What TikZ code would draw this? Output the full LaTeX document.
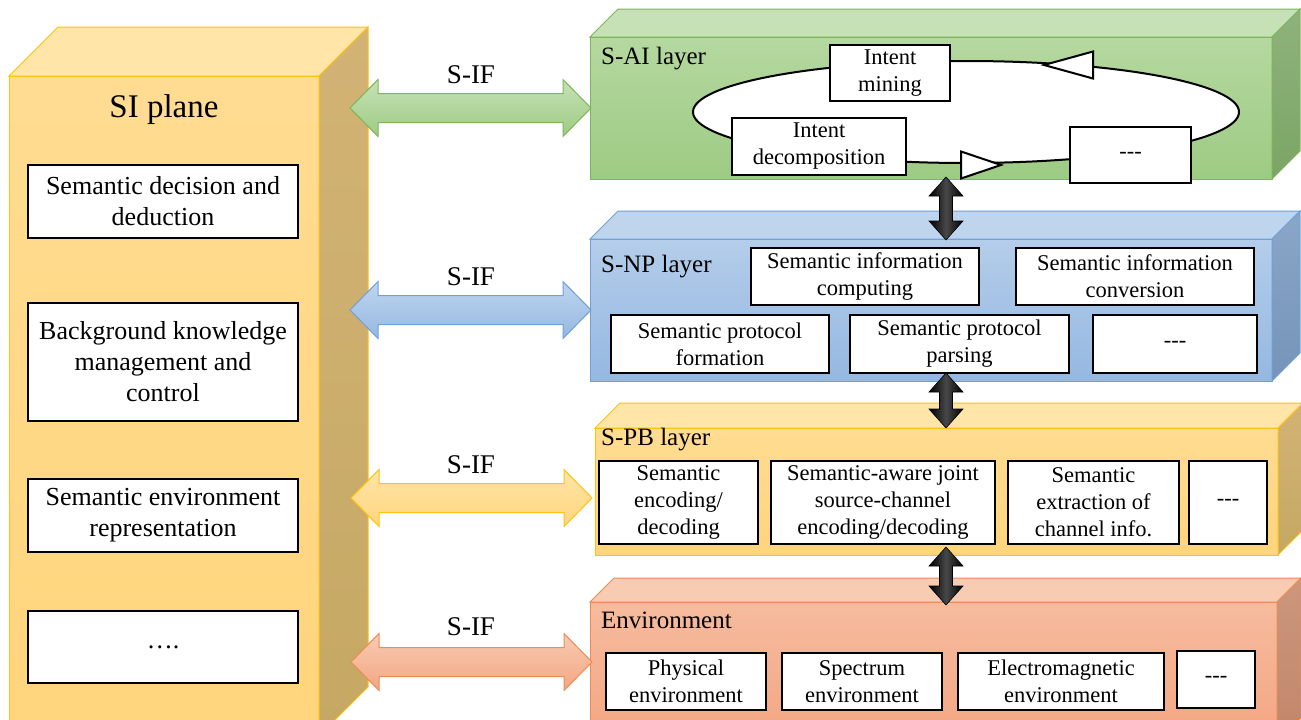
\documentclass[tikz,border=0pt]{standalone}
\usepackage{fontspec}
\setmainfont{Liberation Serif}
\usepackage{pgf}
\usepackage{tikz}
\usetikzlibrary{shapes.geometric}

\definecolor{gfronta}{HTML}{B5D8A0}
\definecolor{gfrontb}{HTML}{9DCB83}
\definecolor{gtop}{HTML}{C7E1B6}
\definecolor{gsidea}{HTML}{8FB27C}
\definecolor{gsideb}{HTML}{7BA566}
\definecolor{gline}{HTML}{7DB55A}
\definecolor{bfronta}{HTML}{B4CDEA}
\definecolor{bfrontb}{HTML}{95B8E1}
\definecolor{btop}{HTML}{BFD5EE}
\definecolor{bsidea}{HTML}{8AA6C8}
\definecolor{bsideb}{HTML}{7594B8}
\definecolor{bline}{HTML}{6FA0D8}
\definecolor{yfronta}{HTML}{FFDC92}
\definecolor{yfrontb}{HTML}{FFD57C}
\definecolor{ytop}{HTML}{FFE5A8}
\definecolor{ysidea}{HTML}{D2B375}
\definecolor{ysideb}{HTML}{C6A864}
\definecolor{yline}{HTML}{FFC20E}
\definecolor{ofronta}{HTML}{F6BB9E}
\definecolor{ofrontb}{HTML}{F3A682}
\definecolor{otop}{HTML}{F8CBB3}
\definecolor{osidea}{HTML}{CC977D}
\definecolor{osideb}{HTML}{C0866A}
\definecolor{oline}{HTML}{EE8B55}

\newcommand{\tridash}{-\kern0pt-\kern0pt-}

\begin{document}
\begin{tikzpicture}[x=1pt,y=-1pt,
  face/.style={draw,rectangle,anchor=north west,inner sep=0pt,outer sep=0pt,line width=1pt},
  sibox/.style={box,minimum width=270pt,font=\fontsize{26}{31}\selectfont},
  layer/.style={anchor=west,inner sep=0pt,font=\fontsize{25}{30}\selectfont},
  sif/.style={line width=1pt,line join=miter},
  sifl/.style={inner sep=0pt,font=\fontsize{27}{32}\selectfont},
  vlink/.style={draw=black,line width=0.6pt,left color=black,right color=black,middle color=black!72},
  cycle/.style={draw,ellipse,fill=white,line width=2pt,minimum width=546pt,minimum height=102pt},
  opentri/.style={draw,fill=white,line width=2pt,line join=miter}]
      \tikzstyle{box}=[draw,rectangle,fill=white,line width=2.5pt,align=center,inner sep=0pt,outer sep=0pt,font=\fontsize{22.5}{27}\selectfont]

      \path [use as bounding box,fill=white] (0,0) rectangle (1301,720);

      % SI plane
      \node [face,top color=yfronta,bottom color=yfrontb,draw=yline,minimum width=310pt,minimum height=660pt] (si) at (9,76) {};
      \draw [draw=yline,fill=ytop,line width=1pt] (si.north west) -- ++(49,-49) -- ++(310,0) -- (si.north east) -- cycle;
      \draw [draw=yline,top color=ysidea,bottom color=ysideb,line width=1pt] (si.north east) -- ++(49,-49) -- ++(0,660) -- (si.south east) -- cycle;
      \node [font=\fontsize{33}{40}\selectfont] (sit) at (164,110) {SI plane};
      \node [sibox,minimum height=73pt] (s1) at (163,201.5) {Semantic decision and\\deduction};
      \node [sibox,minimum height=118pt] (s2) at (163,362) {Background knowledge\\management and\\control};
      \node [sibox,minimum height=73pt] (s3) at (163,515.5) {Semantic environment\\representation};
      \node [sibox,minimum height=72pt] (s4) at (163,647) {….};

      % S-AI layer
      \node [face,top color=gfronta,bottom color=gfrontb,draw=gline,minimum width=682pt,minimum height=142pt] (ai) at (590,37) {};
      \draw [draw=gline,fill=gtop,line width=1pt] (ai.north west) -- ++(28,-28) -- ++(682,0) -- (ai.north east) -- cycle;
      \draw [draw=gline,top color=gsidea,bottom color=gsideb,line width=1pt] (ai.north east) -- ++(28,-28) -- ++(0,142) -- (ai.south east) -- cycle;
      \node [layer] (ait) at (601,59) {S-AI layer};
      \node [cycle] (cyc) at (966,112) {};
      \coordinate (ta) at (1044,65);
      \coordinate (tb) at (1001,165);
      \draw [opentri] (ta) -- ++(49,-13.5) -- ++(0,27) -- cycle;
      \draw [opentri] (tb) -- ++(-40,-13.5) -- ++(0,27) -- cycle;
      \node [box,minimum width=120pt,minimum height=56pt] (im) at (890,73) {Intent\\mining};
      \node [box,minimum width=174pt,minimum height=57pt] (id) at (819,146.5) {Intent\\decomposition};
      \node [box,minimum width=121pt,minimum height=56pt] (ad) at (1130.5,155) {\tridash};

      % S-NP layer
      \node [face,top color=bfronta,bottom color=bfrontb,draw=bline,minimum width=682pt,minimum height=142pt] (np) at (590,239) {};
      \draw [draw=bline,fill=btop,line width=1pt] (np.north west) -- ++(28,-28) -- ++(682,0) -- (np.north east) -- cycle;
      \draw [draw=bline,top color=bsidea,bottom color=bsideb,line width=1pt] (np.north east) -- ++(28,-28) -- ++(0,142) -- (np.south east) -- cycle;
      \node [layer] (npt) at (601,267) {S-NP layer};
      \node [box,minimum width=228pt,minimum height=57pt] (nc) at (865,276.5) {Semantic information\\computing};
      \node [box,minimum width=238pt,minimum height=57pt] (nv) at (1135,276.5) {Semantic information\\conversion};
      \node [box,minimum width=218pt,minimum height=58pt] (nf) at (720,344) {Semantic protocol\\formation};
      \node [box,minimum width=219pt,minimum height=58pt] (nq) at (959.5,344) {Semantic protocol\\parsing};
      \node [box,minimum width=164pt,minimum height=58pt] (nd) at (1175,344) {\tridash};

      % S-PB layer
      \node [face,top color=yfronta,bottom color=yfrontb,draw=yline,minimum width=683pt,minimum height=127pt] (pb) at (595,428) {};
      \draw [draw=yline,fill=ytop,line width=1pt] (pb.north west) -- ++(25,-25) -- ++(683,0) -- (pb.north east) -- cycle;
      \draw [draw=yline,top color=ysidea,bottom color=ysideb,line width=1pt] (pb.north east) -- ++(25,-25) -- ++(0,127) -- (pb.south east) -- cycle;
      \node [layer] (pbt) at (601,440) {S-PB layer};
      \node [box,minimum width=159pt,minimum height=83pt] (pe) at (678.5,502.5) {Semantic\\encoding/\\decoding};
      \node [box,minimum width=224pt,minimum height=83pt] (pj) at (883,502.5) {Semantic-aware joint\\source-channel\\encoding/decoding};
      \node [box,minimum width=171pt,minimum height=83pt] (px) at (1093.5,502.5) {Semantic\\extraction of\\channel info.};
      \node [box,minimum width=78pt,minimum height=83pt] (pd) at (1228,502.5) {\tridash};

      % Environment
      \node [face,top color=ofronta,bottom color=ofrontb,draw=oline,minimum width=687pt,minimum height=140pt] (env) at (590,602) {};
      \draw [draw=oline,fill=otop,line width=1pt] (env.north west) -- ++(24,-24) -- ++(687,0) -- (env.north east) -- cycle;
      \draw [draw=oline,top color=osidea,bottom color=osideb,line width=1pt] (env.north east) -- ++(24,-24) -- ++(0,140) -- (env.south east) -- cycle;
      \node [layer] (envt) at (601,620) {Environment};
      \node [box,minimum width=160pt,minimum height=57pt] (ep) at (686,681.5) {Physical\\environment};
      \node [box,minimum width=160pt,minimum height=57pt] (es) at (862,681.5) {Spectrum\\environment};
      \node [box,minimum width=206pt,minimum height=57pt] (ee) at (1061,681.5) {Electromagnetic\\environment};
      \node [box,minimum width=78pt,minimum height=57pt] (ed) at (1216,679.5) {\tridash};

      % links between layers
      \coordinate (v1) at (946,177);
      \coordinate (v2) at (946,373);
      \coordinate (v3) at (946,547);
      \path [vlink] (v1) -- ++(17,19) -- ++(-10.5,0) -- ++(0,25) -- ++(10.5,0) -- ++(-17,19) -- ++(-17,-19) -- ++(10.5,0) -- ++(0,-25) -- ++(-10.5,0) -- cycle;
      \path [vlink] (v2) -- ++(17,19) -- ++(-10.5,0) -- ++(0,17) -- ++(10.5,0) -- ++(-17,19) -- ++(-17,-19) -- ++(10.5,0) -- ++(0,-17) -- ++(-10.5,0) -- cycle;
      \path [vlink] (v3) -- ++(17,19) -- ++(-10.5,0) -- ++(0,20) -- ++(10.5,0) -- ++(-17,19) -- ++(-17,-19) -- ++(10.5,0) -- ++(0,-20) -- ++(-10.5,0) -- cycle;

      % S-IF
      \coordinate (f1) at (350,108);
      \coordinate (f2) at (350,310);
      \coordinate (f3) at (351,498);
      \coordinate (f4) at (351,662);
      \draw [sif,top color=gtop,bottom color=gfrontb,draw=gline] (f1) -- ++(28,-28.5) -- ++(0,14) -- ++(185,0) -- ++(0,-14) -- ++(28,28.5) -- ++(-28,28.5) -- ++(0,-14) -- ++(-185,0) -- ++(0,14) -- cycle;
      \draw [sif,top color=btop,bottom color=bfrontb,draw=bline] (f2) -- ++(28,-28.5) -- ++(0,14) -- ++(185,0) -- ++(0,-14) -- ++(28,28.5) -- ++(-28,28.5) -- ++(0,-14) -- ++(-185,0) -- ++(0,14) -- cycle;
      \draw [sif,top color=ytop,bottom color=yfrontb,draw=yline] (f3) -- ++(28,-28.5) -- ++(0,14) -- ++(185,0) -- ++(0,-14) -- ++(28,28.5) -- ++(-28,28.5) -- ++(0,-14) -- ++(-185,0) -- ++(0,14) -- cycle;
      \draw [sif,top color=otop,bottom color=ofrontb,draw=oline] (f4) -- ++(28,-28.5) -- ++(0,14) -- ++(185,0) -- ++(0,-14) -- ++(28,28.5) -- ++(-28,28.5) -- ++(0,-14) -- ++(-185,0) -- ++(0,14) -- cycle;
      \node [sifl] (f1l) at (471,75) {S-IF};
      \node [sifl] (f2l) at (471,277) {S-IF};
      \node [sifl] (f3l) at (471,465) {S-IF};
      \node [sifl] (f4l) at (471,627) {S-IF};
\end{tikzpicture}
\end{document}
